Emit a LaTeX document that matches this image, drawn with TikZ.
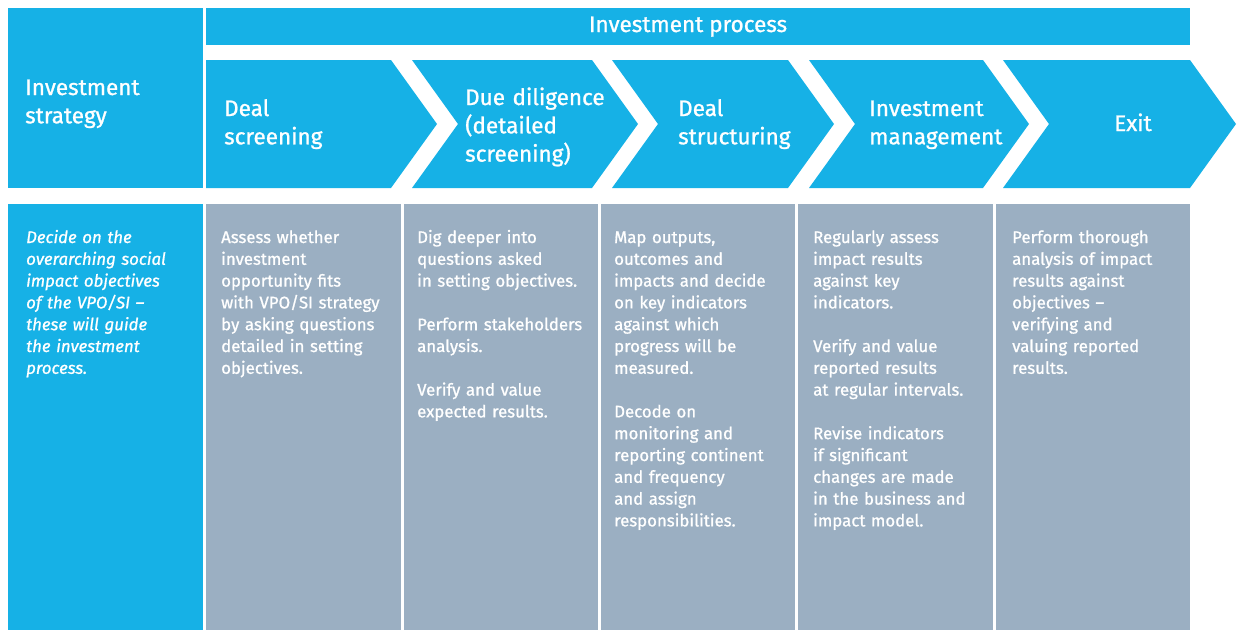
\documentclass[tikz,border=0pt]{standalone}
\usepackage{fontspec}
\setmainfont{Fira Sans}[FakeBold=1]
\definecolor{eublue}{RGB}{22,177,230}
\definecolor{eugray}{RGB}{155,175,194}
\begin{document}
\begin{tikzpicture}[x=1pt,y=-1pt]
\useasboundingbox (0,0) rectangle (1240,630);
\fill[white] (0,0) rectangle (1240,630);
\tikzset{
  head/.style={font=\fontsize{22.5}{28.3}\selectfont, text=white, align=left, inner sep=0pt, anchor=base west, text width=175pt},
  body/.style={font=\fontsize{16.8}{21.8}\selectfont, text=white, align=left, inner sep=0pt, anchor=base west, text width=185pt},
  bluefill/.style={fill=eublue},
  grayfill/.style={fill=eugray}
}
% top row
\fill[bluefill] (8,8) rectangle (203,188);
\fill[bluefill] (206,8) rectangle (1190,45);
\node[font=\fontsize{22.5}{26}\selectfont, text=white, anchor=base, inner sep=0pt] (proc) at (688,32) {Investment process};
% chevrons
\fill[bluefill] (206,60) -- (391,60) -- (437,124) -- (391,188) -- (206,188) -- cycle;
\fill[bluefill] (412,60) -- (592,60) -- (638,124) -- (592,188) -- (412,188) -- (458,124) -- cycle;
\fill[bluefill] (612,60) -- (788,60) -- (834,124) -- (788,188) -- (612,188) -- (658,124) -- cycle;
\fill[bluefill] (809,60) -- (983,60) -- (1029,124) -- (983,188) -- (809,188) -- (855,124) -- cycle;
\fill[bluefill] (1003,60) -- (1190,60) -- (1236,124) -- (1190,188) -- (1003,188) -- (1049,124) -- cycle;
\node[head] (strat) at (25,95) {Investment\\strategy};
\node[head] (screen) at (224,116) {Deal\\screening};
\node[head] (due) at (465,105) {Due diligence\\(detailed\\screening)};
\node[head] (struct) at (678,116) {Deal\\structuring};
\node[head] (manage) at (869,116) {Investment\\management};
\node[font=\fontsize{22.5}{26}\selectfont, text=white, anchor=base, inner sep=0pt] (exit) at (1133,131) {Exit};
% bottom panels
\fill[bluefill] (8,204) rectangle (203,630);
\fill[grayfill] (206,204) rectangle (401,630);
\fill[grayfill] (404,204) rectangle (598,630);
\fill[grayfill] (601,204) rectangle (795,630);
\fill[grayfill] (798,204) rectangle (993,630);
\fill[grayfill] (996,204) rectangle (1190,630);
\node[body, font=\fontsize{16.8}{21.8}\selectfont\itshape] (t0) at (26,243) {Decide on the\\overarching social\\impact objectives\\of the VPO/SI --\\these will guide\\the investment\\process.};
\node[body] (t1) at (221,243) {Assess whether\\investment\\opportunity fits\\with VPO/SI strategy\\by asking questions\\detailed in setting\\objectives.};
\node[body] (t2) at (417,243) {Dig deeper into\\questions asked\\in setting objectives.\\[21.8pt]Perform stakeholders\\analysis.\\[21.8pt]Verify and value\\expected results.};
\node[body] (t3) at (614,243) {Map outputs,\\outcomes and\\impacts and decide\\on key indicators\\against which\\progress will be\\measured.\\[21.8pt]Decode on\\monitoring and\\reporting continent\\and frequency\\and assign\\responsibilities.};
\node[body] (t4) at (813,243) {Regularly assess\\impact results\\against key\\indicators.\\[21.8pt]Verify and value\\reported results\\at regular intervals.\\[21.8pt]Revise indicators\\if significant\\changes are made\\in the business and\\impact model.};
\node[body] (t5) at (1012,243) {Perform thorough\\analysis of impact\\results against\\objectives --\\verifying and\\valuing reported\\results.};
\end{tikzpicture}
\end{document}
